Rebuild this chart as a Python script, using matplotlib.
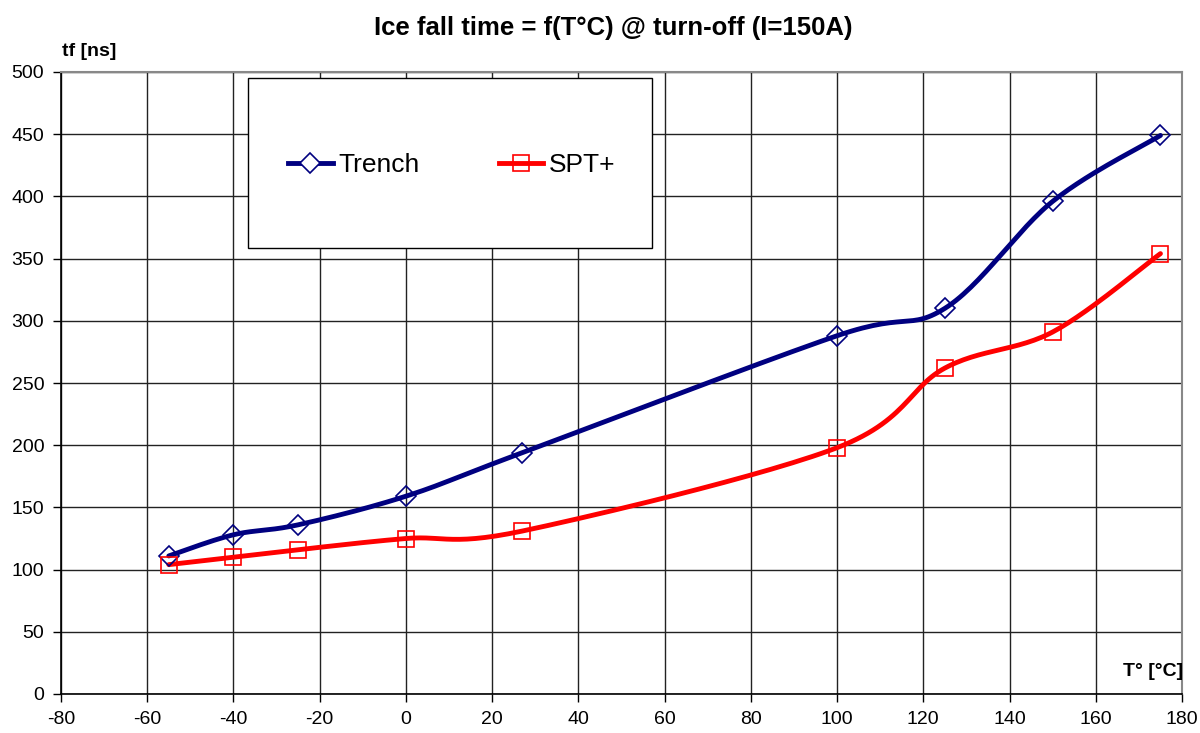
"""
Ice fall time vs. junction temperature at turn-off, Trench vs SPT+.
"""

import matplotlib.pyplot as plt
import numpy as np
from matplotlib.patches import Rectangle

plt.rcParams['font.family'] = ['Liberation Sans', 'DejaVu Sans']
plt.rcParams['axes.unicode_minus'] = False

temps = [-55, -40, -25, 0, 27, 100, 125, 150, 175]
trench_tf = [111, 128, 136, 159, 194, 288, 310, 396, 449]
spt_tf = [104, 110, 116, 125, 131, 198, 262, 291, 354]

x_ticks = list(range(-80, 181, 20))
y_ticks = list(range(0, 501, 50))


def smooth_curve(xs, ys, sx=4.31, sy=1.244, n=30):
    """Catmull-Rom curve through the points, computed in screen-like units."""
    p = np.column_stack([np.asarray(xs) * sx, np.asarray(ys) * sy])
    p = np.vstack([p[0], p, p[-1]])
    out = []
    for i in range(1, len(p) - 2):
        p0, p1, p2, p3 = p[i - 1], p[i], p[i + 1], p[i + 2]
        t = np.linspace(0, 1, n)[:, None]
        seg = 0.5 * ((2 * p1) + (-p0 + p2) * t
                     + (2 * p0 - 5 * p1 + 4 * p2 - p3) * t ** 2
                     + (-p0 + 3 * p1 - 3 * p2 + p3) * t ** 3)
        out.append(seg if i == 1 else seg[1:])
    out = np.vstack(out)
    return out[:, 0] / sx, out[:, 1] / sy


W, H = 1200, 733
fig = plt.figure(figsize=(12, 7.33), dpi=100)
ax = fig.add_axes([61 / W, 1 - 694 / H, 1121 / W, 622 / H])

navy = '#000080'
red = '#ff0000'
lw = 3.5

cx, cy = smooth_curve(temps, trench_tf)
ax.plot(cx, cy, color=navy, linewidth=lw, solid_capstyle='round', zorder=3)
ax.plot(temps, trench_tf, linestyle='none', marker='D', markersize=10,
        markerfacecolor='none', markeredgecolor=navy, markeredgewidth=1.2, zorder=4)

cx, cy = smooth_curve(temps, spt_tf)
ax.plot(cx, cy, color=red, linewidth=lw, solid_capstyle='round', zorder=3)
ax.plot(temps, spt_tf, linestyle='none', marker='s', markersize=12,
        markerfacecolor='none', markeredgecolor=red, markeredgewidth=1.2, zorder=4)

# legend box
box = Rectangle(((248 - 61) / 1121, (694 - 248) / 622), 404 / 1121, 170 / 622,
                transform=ax.transAxes, facecolor='white', edgecolor='black',
                linewidth=1.0, zorder=5)
ax.add_patch(box)

h1, = ax.plot([], [], color=navy, linewidth=lw, marker='D', markersize=10,
              markerfacecolor='white', markeredgecolor=navy, markeredgewidth=1.2)
h2, = ax.plot([], [], color=red, linewidth=lw, marker='s', markersize=11,
              markerfacecolor='none', markeredgecolor=red, markeredgewidth=1.2)
leg = ax.legend([h1, h2], ['Trench', 'SPT+'], ncol=2, loc='center left',
                bbox_to_anchor=((288 - 61) / 1121, (694 - 165) / 622),
                fontsize=19, frameon=False, borderpad=0, borderaxespad=0,
                handlelength=1.7, handletextpad=0.2, columnspacing=3.0)
leg.set_zorder(6)

ax.set_xlim(-80, 180)
ax.set_ylim(0, 500)
ax.set_xticks(x_ticks)
ax.set_yticks(y_ticks)
ax.tick_params(direction='out', length=6, width=1, labelsize=14, color='black', pad=6)
ax.grid(True, color='#222222', linewidth=1.0)
ax.set_axisbelow(True)
for side in ['left', 'bottom']:
    ax.spines[side].set_color('black')
    ax.spines[side].set_linewidth(1.2)
for side in ['top', 'right']:
    ax.spines[side].set_color('#888888')
    ax.spines[side].set_linewidth(1.5)

fig.text(613 / W, 1 - 28 / H, 'Ice fall time = f(T\u00b0C) @ turn-off (I=150A)',
         ha='center', va='center', fontsize=18.5, fontweight='bold')
fig.text(62 / W, 1 - 52 / H, 'tf [ns]', ha='left', va='center',
         fontsize=14, fontweight='bold')
ax.text(1.001, (694 - 672) / 622, 'T\u00b0 [\u00b0C]', transform=ax.transAxes,
        ha='right', va='center', fontsize=14, fontweight='bold')

plt.savefig('out.png', dpi=100)
